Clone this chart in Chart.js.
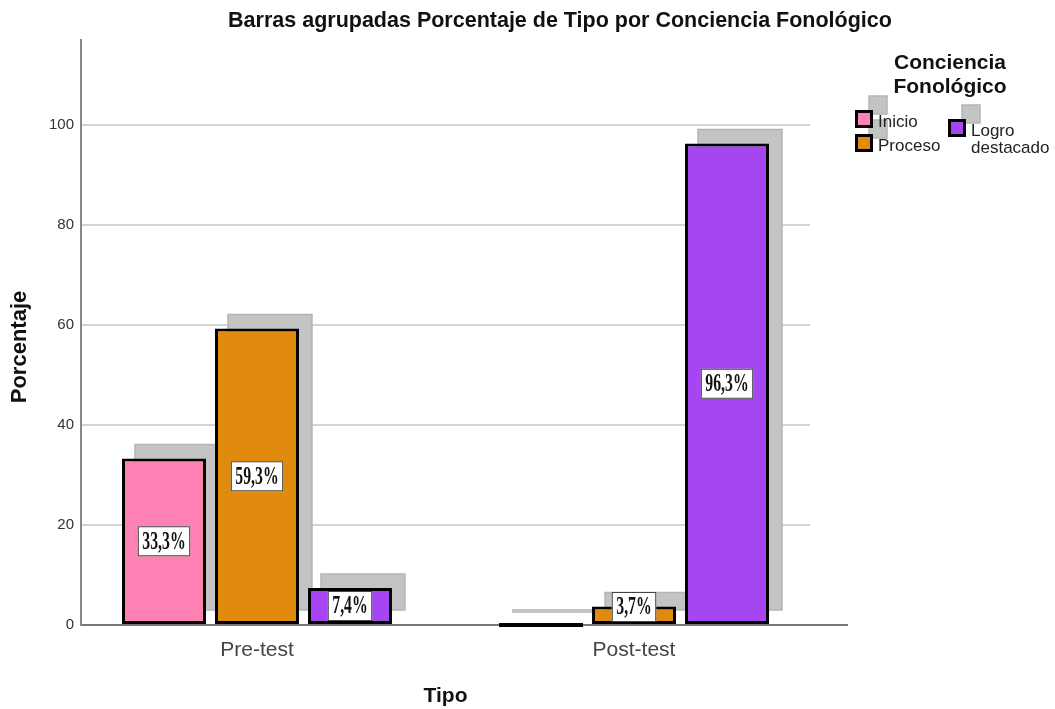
<!DOCTYPE html>
<html>
<head>
<meta charset="utf-8">
<script src="https://cdn.jsdelivr.net/npm/chart.js@4.4.1/dist/chart.umd.min.js"></script>
<style>
  html, body { margin: 0; padding: 0; background: #fff; }
  #wrap { width: 1055px; height: 709px; }
</style>
</head>
<body>
<div id="wrap"><canvas id="chart" width="1055" height="709"></canvas></div>
<script>
// data
const categories = ['Pre-test', 'Post-test'];
const seriesNames = ['Inicio', 'Proceso', 'Logro destacado'];
const inicio = [33.3, 0];
const proceso = [59.3, 3.7];
const logro = [7.4, 96.3];
const yTicks = [0, 20, 40, 60, 80, 100];

const colors = ['#ff80b3', '#e08a0e', '#a546f2'];
const series = [inicio, proceso, logro];

const SANS = "'Liberation Sans', Arial, sans-serif";
const SERIF = "'Liberation Serif', 'Times New Roman', serif";
const SHADOW_DX = 13, SHADOW_DY = -14;

const datasets = series.map((vals, i) => ({
  label: seriesNames[i],
  data: vals.map((v, j) => ({ x: j, y: v })),
  backgroundColor: colors[i],
  borderColor: '#000',
  borderWidth: 3,
  borderSkipped: false,
  categoryPercentage: 0.74,
  barPercentage: 0.903
}));

// gray drop shadows behind bars
const shadowPlugin = {
  id: 'shadows',
  beforeDatasetsDraw(chart) {
    const ctx = chart.ctx;
    ctx.save();
    chart.data.datasets.forEach((ds, i) => {
      chart.getDatasetMeta(i).data.forEach(el => {
        const left = el.x - el.width / 2 + SHADOW_DX;
        const h = el.base - el.y;
        if (h < 1) {
          ctx.strokeStyle = '#c4c4c4';
          ctx.lineWidth = 4;
          ctx.beginPath();
          ctx.moveTo(left, el.base + SHADOW_DY);
          ctx.lineTo(left + el.width, el.base + SHADOW_DY);
          ctx.stroke();
        } else {
          ctx.fillStyle = '#c4c4c4';
          ctx.fillRect(left, el.y + SHADOW_DY, el.width, h);
          ctx.strokeStyle = '#b4b4b4';
          ctx.lineWidth = 1.5;
          ctx.strokeRect(left, el.y + SHADOW_DY, el.width, h);
        }
      });
    });
    ctx.restore();
  }
};

// value boxes, zero bars, axis extension, titles and legend
const overlayPlugin = {
  id: 'overlay',
  afterDatasetsDraw(chart) {
    const ctx = chart.ctx;
    ctx.save();
    chart.data.datasets.forEach((ds, i) => {
      chart.getDatasetMeta(i).data.forEach((el, j) => {
        const v = series[i][j];
        const left = el.x - el.width / 2;
        if (v === 0) {
          ctx.strokeStyle = '#000';
          ctx.lineWidth = 4;
          ctx.beginPath();
          ctx.moveTo(left, el.base);
          ctx.lineTo(left + el.width, el.base);
          ctx.stroke();
          return;
        }
        const txt = v.toFixed(1).replace('.', ',') + '%';
        ctx.font = 'bold 25px ' + SERIF;
        const sx = 0.63;
        const tw = ctx.measureText(txt).width * sx;
        const bw = tw + 9, bh = 30;
        const cy = Math.min((el.y + el.base) / 2, el.base - 17);
        ctx.fillStyle = '#fff';
        ctx.fillRect(el.x - bw / 2, cy - bh / 2, bw, bh);
        ctx.strokeStyle = '#444';
        ctx.lineWidth = 1;
        ctx.strokeRect(el.x - bw / 2 + 0.5, cy - bh / 2 + 0.5, bw - 1, bh - 1);
        ctx.save();
        ctx.translate(el.x, cy + 1);
        ctx.scale(sx, 1);
        ctx.fillStyle = '#111';
        ctx.textAlign = 'center';
        ctx.textBaseline = 'middle';
        ctx.fillText(txt, 0, 0);
        ctx.restore();
      });
    });
    ctx.restore();
  },
  afterDraw(chart) {
    const ctx = chart.ctx;
    const area = chart.chartArea;
    ctx.save();
    // x axis line runs on past the grid
    ctx.strokeStyle = '#777';
    ctx.lineWidth = 2;
    ctx.beginPath();
    ctx.moveTo(area.right - 1, area.bottom);
    ctx.lineTo(848, area.bottom);
    ctx.stroke();

    // chart title
    ctx.fillStyle = '#111';
    ctx.textAlign = 'center';
    ctx.textBaseline = 'middle';
    ctx.font = 'bold 21.5px ' + SANS;
    ctx.fillText('Barras agrupadas Porcentaje de Tipo por Conciencia Fonológico', 560, 21);

    // y axis title (sits a bit below the middle of the axis)
    ctx.save();
    ctx.translate(20, 347);
    ctx.rotate(-Math.PI / 2);
    ctx.font = 'bold 22px ' + SANS;
    ctx.fillText('Porcentaje', 0, 0);
    ctx.restore();

    // legend title
    ctx.font = 'bold 21px ' + SANS;
    ctx.fillText('Conciencia', 950, 63);
    ctx.fillText('Fonológico', 950, 87);

    // legend items
    const items = [
      { x: 855, y: 110, lines: ['Inicio'] },
      { x: 855, y: 134, lines: ['Proceso'] },
      { x: 948, y: 119, lines: ['Logro', 'destacado'] }
    ];
    items.forEach(it => {
      ctx.fillStyle = '#c4c4c4';
      ctx.fillRect(it.x + 14, it.y - 14, 18, 18);
      ctx.strokeStyle = '#b4b4b4';
      ctx.lineWidth = 1.5;
      ctx.strokeRect(it.x + 14, it.y - 14, 18, 18);
    });
    items.forEach((it, i) => {
      ctx.fillStyle = colors[i];
      ctx.fillRect(it.x, it.y, 18, 18);
      ctx.strokeStyle = '#000';
      ctx.lineWidth = 3;
      ctx.strokeRect(it.x + 1.5, it.y + 1.5, 15, 15);
      ctx.fillStyle = '#222';
      ctx.textAlign = 'left';
      ctx.font = '17px ' + SANS;
      it.lines.forEach((ln, k) => ctx.fillText(ln, it.x + 23, it.y + 12 + k * 17));
    });
    ctx.restore();
  }
};

new Chart(document.getElementById('chart'), {
  type: 'bar',
  data: { datasets },
  options: {
    responsive: false,
    animation: false,
    layout: { padding: { left: 0, right: 245, top: 40, bottom: 0 } },
    plugins: {
      legend: { display: false },
      title: { display: false },
      tooltip: { enabled: false }
    },
    scales: {
      x: {
        type: 'linear',
        min: -0.4668,
        max: 1.4668,
        offset: false,
        afterBuildTicks(scale) { scale.ticks = categories.map((c, i) => ({ value: i })); },
        afterFit(scale) { scale.height = 84; },
        ticks: {
          padding: 5,
          color: '#444',
          font: { family: SANS, size: 21 },
          callback: v => categories[v]
        },
        grid: { display: false },
        border: { color: '#777', width: 2 },
        title: {
          display: true,
          text: 'Tipo',
          color: '#111',
          font: { family: SANS, size: 21, weight: 'bold' },
          padding: { top: 0, bottom: 0 }
        }
      },
      y: {
        min: 0,
        max: 117,
        afterBuildTicks(scale) { scale.ticks = yTicks.map(v => ({ value: v })); },
        afterFit(scale) { scale.width = 81; },
        ticks: {
          padding: 7,
          color: '#333',
          font: { family: SANS, size: 15 }
        },
        grid: { color: '#d4d4d4', lineWidth: 2, drawTicks: false },
        border: { color: '#888', width: 2 },
        title: { display: false }
      }
    }
  },
  plugins: [shadowPlugin, overlayPlugin]
});
</script>
</body>
</html>
